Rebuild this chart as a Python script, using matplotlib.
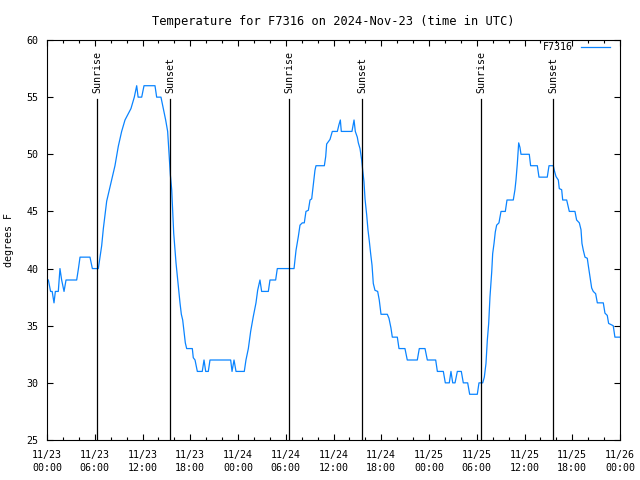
import datetime as dt
import matplotlib
matplotlib.use('Agg')
from matplotlib import pyplot as plt
import matplotlib.dates as mdates

start = dt.datetime(2024, 11, 23, 0, 0)

# hours after 11/23 00:00 UTC and temperature readings (deg F)
hours = [
    0.17, 0.45, 0.65, 0.88, 1.05, 1.35, 1.42, 1.63, 1.84, 2.14, 2.39, 3.73, 3.95, 4.15,
    5.40, 5.70, 6.45, 6.87, 7.08, 7.50, 8.13, 8.54, 8.96, 9.38, 9.80, 10.55, 10.97,
    11.27, 11.45, 11.90, 12.19, 13.57, 13.78, 14.32, 14.62, 14.91, 15.16, 15.37, 15.50,
    15.67, 15.79, 15.92, 16.08, 16.21, 16.38, 16.55, 16.71, 16.88, 17.05, 17.21, 17.38,
    17.55, 18.26, 18.38, 18.60, 18.89, 19.51, 19.73, 19.94, 20.27, 20.48, 23.08, 23.25,
    23.50, 23.75, 24.79, 25.00, 25.30, 25.59, 25.92, 26.26, 26.47, 26.76, 26.97, 27.81,
    28.02, 28.73, 28.94, 31.04, 31.29, 31.58, 31.79, 32.08, 32.33, 32.54, 32.84, 33.05,
    33.26, 33.46, 33.67, 33.80, 34.85, 35.02, 35.14, 35.35, 35.56, 35.85, 36.48, 36.69,
    36.86, 36.98, 38.32, 38.58, 38.74, 38.99, 39.12, 39.33, 39.54, 39.67, 39.83, 39.96,
    40.17, 40.33, 40.50, 40.67, 40.84, 41.00, 41.21, 41.55, 41.75, 41.97, 42.76, 42.97,
    43.22, 43.39, 44.02, 44.23, 44.98, 45.27, 46.53, 46.78, 47.50, 47.79, 48.84, 49.05,
    49.80, 50.05, 50.55, 50.76, 50.98, 51.27, 51.56, 52.06, 52.31, 52.86, 53.11, 54.07,
    54.28, 54.75, 54.95, 55.16, 55.33, 55.50, 55.66, 55.88, 56.00, 56.17, 56.33, 56.50,
    56.79, 57.05, 57.59, 57.80, 58.59, 58.80, 58.93, 59.10, 59.27, 59.43, 59.56, 60.60,
    60.77, 61.61, 61.82, 62.86, 63.08, 63.62, 63.74, 63.96, 64.25, 64.37, 64.67, 64.80,
    65.30, 65.63, 66.34, 66.55, 66.89, 67.10, 67.22, 67.39, 67.60, 67.89, 68.01, 68.23,
    68.44, 68.64, 68.94, 69.15, 69.90, 70.11, 70.40, 70.57, 71.15, 71.36, 71.99,
]
temps = [
    39, 38, 38, 37, 38, 38, 38, 40, 39, 38, 39, 39, 40, 41,
    41, 40, 40, 42, 43.5, 45.9, 47.8, 49, 50.7, 52, 53, 54, 55,
    56, 55, 55, 56, 56, 55, 55, 54, 53, 52, 49.6, 48.2,
    46.9, 45.1, 43.1, 41.6, 40.5, 39.3, 38.1, 37, 36, 35.5, 34.5, 33.5,
    33, 33, 32.2, 32, 31, 31, 32, 31, 31, 32, 32, 31,
    32, 31, 31, 32, 33, 34.5, 35.8, 37, 38.1, 39, 38, 38,
    39, 39, 40, 40, 41.6, 42.8, 43.8, 44, 44, 45, 45.1, 46,
    46.1, 47.3, 48.6, 49, 49, 49.8, 50.9, 51.1, 51.3, 52, 52, 52.6,
    53, 52, 52, 53, 52, 51.5, 51, 50.5, 49.5, 48.6, 47.6, 46.1,
    44.7, 43.4, 42.4, 41.3, 40.3, 38.7, 38.1, 38, 37.25, 36, 36, 35.65,
    34.8, 34, 34, 33, 33, 32, 32, 33, 33, 32, 32, 31,
    31, 30, 30, 31, 30, 30, 31, 31, 30, 30, 29, 29,
    30, 30, 30.5, 31.7, 33.75, 35.2, 37.5, 39.7, 41.3, 42.2, 43.2, 43.8,
    44, 45, 45, 46, 46, 46.9, 47.75, 49.2, 51, 50.6, 50, 50,
    49, 49, 48, 48, 49, 49, 48.6, 48.05, 47.75, 47, 46.9, 46,
    46, 45, 45, 44.25, 44, 43.4, 42.2, 41.6, 41, 40.9, 40.3, 39.3,
    38.3, 38, 37.8, 37, 37, 36.1, 35.9, 35.2, 35, 34, 34,
]

sunrise_hours = [6.32, 30.45, 54.57]
sunset_hours = [15.50, 39.62, 63.62]

times = [start + dt.timedelta(hours=h) for h in hours]

plt.rcParams['font.family'] = 'DejaVu Sans Mono'
plt.rcParams['font.size'] = 7.2

fig = plt.figure(figsize=(6.4, 4.8), dpi=100)
ax = fig.add_axes([47 / 640, 40 / 480, 573 / 640, 400 / 480])

ax.plot(times, temps, color='#0a84ff', linewidth=0.9, label='F7316')

for names, hs in (('Sunrise', sunrise_hours), ('Sunset', sunset_hours)):
    for h in hs:
        t = start + dt.timedelta(hours=h)
        ax.axvline(t, ymin=0, ymax=0.853, color='black', linewidth=0.9)
        ax.text(t, 0.868, names, transform=ax.get_xaxis_transform(),
                rotation=90, ha='center', va='bottom')

ax.set_xlim(start, start + dt.timedelta(hours=72))
ax.set_ylim(25, 60)
ax.set_yticks(range(25, 61, 5))
ax.xaxis.set_major_locator(mdates.HourLocator(byhour=range(0, 24, 6)))
ax.xaxis.set_minor_locator(mdates.HourLocator(byhour=range(0, 24, 2)))
ax.xaxis.set_major_formatter(mdates.DateFormatter('%m/%d\n%H:%M'))
ax.tick_params(which='both', direction='in', top=True, right=True, width=0.8)
ax.tick_params(which='major', length=4)
ax.tick_params(which='minor', length=2.5)
ax.tick_params(axis='x', which='major', pad=7)
ax.tick_params(axis='y', which='major', pad=6)
plt.setp(ax.get_xticklabels(), linespacing=1.45)
for s in ax.spines.values():
    s.set_linewidth(0.8)

ax.set_title('Temperature for F7316 on 2024-Nov-23 (time in UTC)', pad=11)
ax.set_ylabel('degrees F')
ax.yaxis.set_label_coords(-0.057, 0.5)

ax.legend(loc='upper right', bbox_to_anchor=(0.990, 1.005), borderaxespad=0,
          frameon=False, markerfirst=False, handlelength=2.9, handletextpad=0.8)

fig.savefig('out.png', dpi=100)
